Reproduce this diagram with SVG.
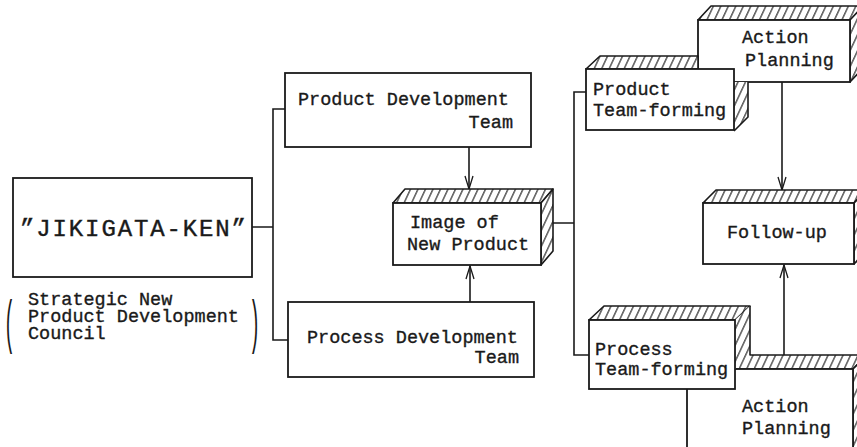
<svg xmlns="http://www.w3.org/2000/svg" width="857" height="447" viewBox="0 0 857 447">
  <defs>
    <!-- diagonal shading for the receding faces of the solid blocks -->
    <pattern id="hatch" width="7.5" height="14" patternUnits="userSpaceOnUse" patternTransform="skewX(-25)">
      <rect width="7.5" height="14" fill="#fff"/>
      <line x1="3.7" y1="0" x2="3.7" y2="14" stroke="#1a1a1a" stroke-width="1.2"/>
    </pattern>
    <!-- open V arrowhead, tip at the line end -->
    <marker id="arrow" viewBox="-15 -6 17 12" markerWidth="17" markerHeight="12" refX="0" refY="0" orient="auto" markerUnits="userSpaceOnUse">
      <path d="M-13,-4 L0,0 L-13,4" fill="none" stroke="#1a1a1a" stroke-width="1.3"/>
    </marker>
    <style>
      .box { fill: #fff; stroke: #1a1a1a; stroke-width: 1.8; }
      .face { fill: url(#hatch); stroke: #1a1a1a; stroke-width: 1.6; stroke-linejoin: round; }
      .facefill { fill: url(#hatch); stroke: none; }
      .edge { fill: none; stroke: #1a1a1a; stroke-width: 1.6; }
      .wire { fill: none; stroke: #1a1a1a; stroke-width: 1.6; }
      .t { font-family: "Liberation Mono", "Courier New", monospace; font-size: 18.5px; fill: #1a1a1a; stroke: #1a1a1a; stroke-width: 0.35; }
      .big { font-family: "Liberation Mono", "Courier New", monospace; font-size: 24px; fill: #1a1a1a; stroke: #1a1a1a; stroke-width: 0.4; }
      .paren { font-family: "Liberation Mono", "Courier New", monospace; font-size: 18.5px; fill: #1a1a1a; }
    </style>
  </defs>

  <rect width="857" height="447" fill="#fff"/>

  <!-- connectors -->
  <g id="connectors">
    <path class="wire" d="M252,227 H273 M285,109 H273 V340 H288"/>
    <path class="wire" d="M469,147 V189" marker-end="url(#arrow)"/>
    <path class="wire" d="M470,302 V266" marker-end="url(#arrow)"/>
    <path class="wire" d="M553,223 H574 M586,92 H574 V355 H589"/>
    <path class="wire" d="M782,82 V190" marker-end="url(#arrow)"/>
    <path class="wire" d="M784,355 V265" marker-end="url(#arrow)"/>
  </g>

  <!-- council -->
  <g id="council">
    <rect class="box" x="13" y="178" width="239" height="99"/>
    <text class="big" x="20" y="236" textLength="226" lengthAdjust="spacing">”JIKIGATA-KEN”</text>
  </g>
  <g id="council-note">
    <text class="paren" transform="translate(4,0) scale(1,3.2)" y="107">(</text>
    <text class="paren" transform="translate(249,0) scale(1,3.2)" y="107">)</text>
    <text class="t" x="28" y="305">Strategic New</text>
    <text class="t" x="28" y="322">Product Development</text>
    <text class="t" x="28" y="339">Council</text>
  </g>

  <!-- development teams -->
  <g id="product-dev">
    <rect class="box" x="285" y="73" width="246" height="74"/>
    <text class="t" x="298" y="105">Product Development</text>
    <text class="t" x="513" y="128" text-anchor="end">Team</text>
  </g>
  <g id="process-dev">
    <rect class="box" x="288" y="302" width="246" height="75"/>
    <text class="t" x="307" y="343">Process Development</text>
    <text class="t" x="519" y="363" text-anchor="end">Team</text>
  </g>

  <!-- image of new product -->
  <g id="image">
    <polygon class="face" points="393,203 405,189 553,189 541,203"/>
    <polygon class="face" points="541,203 553,189 553,251 541,265"/>
    <rect class="box" x="393" y="203" width="148" height="62"/>
    <text class="t" x="410" y="228">Image of</text>
    <text class="t" x="407" y="250">New Product</text>
  </g>

  <!-- action planning (upper) -->
  <g id="action-upper">
    <polygon class="face" points="698,20 711,6 866,6 853,20"/>
    <polygon class="face" points="850,20 863,6 863,68 850,82"/>
    <rect class="box" x="698" y="20" width="152" height="62"/>
    <text class="t" x="742" y="43">Action</text>
    <text class="t" x="745" y="66">Planning</text>
  </g>

  <!-- product team-forming -->
  <g id="product-tf">
    <polygon class="face" points="586,69 600,56 698,56 698,69"/>
    <polygon class="facefill" points="734,82 748,82 748,117 734,131"/>
    <path class="edge" d="M748,82 V117 L734,131"/>
    <rect class="box" x="586" y="69" width="148" height="61"/>
    <text class="t" x="593" y="95">Product</text>
    <text class="t" x="593" y="116">Team-forming</text>
  </g>

  <!-- follow-up -->
  <g id="follow-up">
    <polygon class="face" points="703,203 716,190 867,190 854,203"/>
    <polygon class="face" points="854,203 867,190 867,251 854,264"/>
    <rect class="box" x="703" y="203" width="151" height="61"/>
    <text class="t" x="727" y="238">Follow-up</text>
  </g>

  <!-- action planning (lower) -->
  <g id="action-lower">
    <polygon class="face" points="687,369 701,355 867,355 853,369"/>
    <polygon class="face" points="853,369 867,355 867,460 853,460"/>
    <rect class="box" x="687" y="369" width="166" height="95"/>
    <text class="t" x="742" y="412">Action</text>
    <text class="t" x="742" y="434">Planning</text>
  </g>

  <!-- process team-forming -->
  <g id="process-tf">
    <polygon class="face" points="589,320 604,306 750,306 735,320"/>
    <polygon class="facefill" points="735,320 750,306 750,355 735,369"/>
    <path class="edge" d="M750,306 V355"/>
    <rect class="box" x="589" y="320" width="146" height="69"/>
    <text class="t" x="595" y="355">Process</text>
    <text class="t" x="595" y="375">Team-forming</text>
  </g>
</svg>
